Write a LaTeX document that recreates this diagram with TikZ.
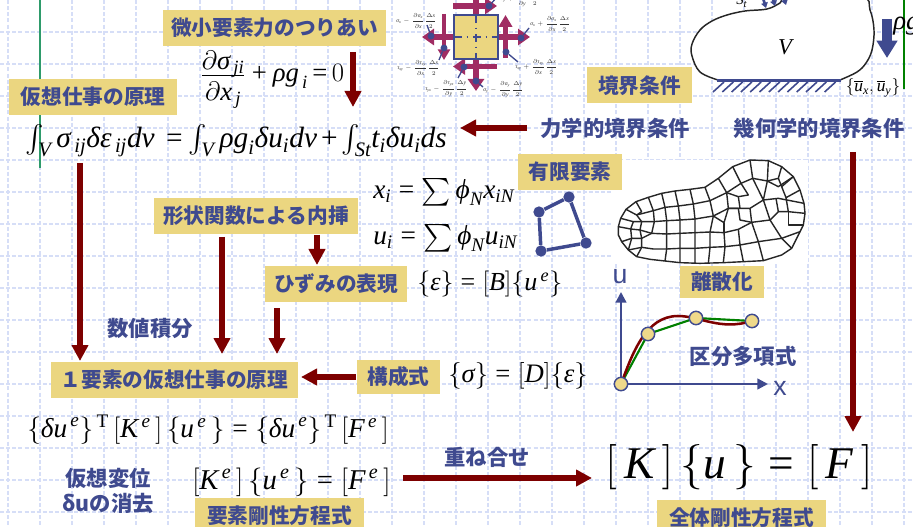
\documentclass[tikz,border=0pt]{standalone}
\usepackage{fix-cm}
\usepackage{amsmath}
\usepackage{fontspec}
\setmainfont{Liberation Serif}
\newfontfamily\jpf{Noto Sans CJK JP}
\newfontfamily\sansf{Liberation Sans}
\usetikzlibrary{arrows.meta}
\definecolor{ink}{HTML}{3F4A8F}
\definecolor{boxy}{HTML}{EBD680}
\definecolor{darkred}{HTML}{7D0000}
\definecolor{gridc}{HTML}{D6DEF7}
\definecolor{magen}{HTML}{A02C63}
\definecolor{dotc}{HTML}{EFD98A}
\newcommand{\iv}[1]{\text{\itshape #1}}
\newcommand{\ds}{\partial}
\newcommand{\eqq}{\mathrel{\text{=}}}
\newcommand{\pls}{\mathbin{\text{+}}}
\newcommand{\tightm}{\thickmuskip=5mu\medmuskip=4mu}
\newcommand{\lownum}[1]{\smash{\raisebox{-4pt}{$\displaystyle #1$}}}
\tikzset{
 lab/.style={fill=boxy,text=ink,font=\jpf\bfseries\fontsize{15.5}{18}\selectfont,inner sep=0pt,minimum height=27pt,align=center},
 plain/.style={text=ink,font=\jpf\bfseries\fontsize{16}{19}\selectfont,inner sep=0pt,align=center},
 fm/.style={font=\fontsize{#1}{#1}\selectfont,inner sep=0pt,anchor=west},
 tiny/.style={font=\fontsize{4.3}{5}\selectfont,inner sep=0pt,text=black!80},
 rarrow/.style={darkred,line width=4.2pt,-{Triangle[width=12pt,length=12pt]}},
 sarrow/.style={magen,line width=4pt,-{Triangle[width=12pt,length=9pt]}},
 callout/.style={ink,line width=1pt},
 cdot/.style={circle,fill=ink,inner sep=0pt,minimum size=5.2pt},
 femdot/.style={circle,fill=ink,inner sep=0pt,minimum size=8.5pt},
 plotdot/.style={circle,fill=dotc,draw=ink,line width=1.1pt,inner sep=0pt,minimum size=10pt},
 meshl/.style={black!85,line width=1.05pt,line join=round},
 gridl/.style={gridc,line width=.9pt,dash pattern=on 3pt off 1.6pt},
}
\begin{document}
\begin{tikzpicture}[x=.75pt,y=-.75pt]
\useasboundingbox (0,0) rectangle (913,527);
\clip (0,0) rectangle (913,527);
\fill[white] (0,0) rectangle (913,527);
% grid
\foreach \k in {0,...,28}{\draw[gridl] ({8+32*\k},0) -- ({8+32*\k},527);}
\foreach \k in {1,...,16}{\draw[gridl] (0,{32*\k}) -- (913,{32*\k});}
% green rules
\draw[color={rgb,255:red,46;green,155;blue,107},line width=1.1pt] (40,0) -- (40,168);
% blob
\fill[white] (612,160) rectangle (808,264);
\draw[fill=white,draw=black!85,line width=1.1pt] plot[smooth,tension=.6] coordinates {(718,80) (700,72) (692,56) (692,44) (700,30) (712,21) (727,15) (745,11) (767,9) (780,3) (790,-4) (860,-4) (870,10) (874,30) (872,50) (866,63) (857,72) (840,80)};
\draw[ink,line width=2pt] (717,80.5) -- (841,80.5);
\foreach \k in {0,...,12}{\draw[ink,line width=1.2pt] ({713+9.3*\k},92) -- ({724+9.3*\k},82);}
\foreach \a/\b in {763/-2,772/-4,783/-5}{\draw[ink,line width=2pt,-{Triangle[width=5pt,length=4pt]}] (\a,\b) -- ({\a+3},{\b+10});}
\node[fm=11,anchor=west] (st) at (736,1) {\iv{S}\raisebox{-2pt}{\fontsize{8}{8}\selectfont\itshape t}};
\node[fm=17,anchor=center] (vv) at (785,47) {\iv{V}};
\draw[ink,line width=7.5pt,-{Triangle[width=15pt,length=13pt]}] (887,19) -- (887,58);
\draw[color={rgb,255:red,0;green,128;blue,0},line width=1pt] (904,0) -- (904,89);
\node[fm=20] (rhog) at (893,26) {\iv{ρg}};
\node[fm=13,anchor=center] (ubar) at (873,88) {$\{\overline{\iv{u}}_{\iv{x}},\overline{\iv{u}}_{\iv{y}}\}$};
% stress element
\draw[sarrow] (476,16) -- (476,-14);
\draw[sarrow] (476,58) -- (476,91);
\draw[sarrow] (455,37) -- (422,37);
\draw[sarrow] (497,37) -- (530,37);
\draw[sarrow] (453,6) -- (497,6);
\draw[sarrow,line width=3.6pt,-{Triangle[width=9pt,length=8pt]}] (444,14) -- (444,60);
\draw[sarrow,line width=3.6pt,-{Triangle[width=10pt,length=9pt]}] (505.5,58) -- (505.5,15);
\draw[sarrow] (497,66.5) -- (453,66.5);
\node[draw=ink,fill=boxy,line width=1.4pt,minimum width=33pt,minimum height=33pt,inner sep=0pt] (elem) at (476,37) {};
\draw[ink,line width=1pt,dash pattern=on 6pt off 3.5pt on 1.2pt off 3.5pt] (454,37) -- (498,37);
\draw[ink,line width=1pt,dash pattern=on 6pt off 3.5pt on 1.2pt off 3.5pt] (476,15) -- (476,59);
\foreach \n/\dx/\dy/\ex/\ey in {c1/431/36/427/25,c2/444/48/439/60,c3/464/67/458/78,c4/476/81/483/87,c5/506/52/518/62,c6/521/38/529/28,c7/489/6/497/-3}{
 \node[cdot] (\n) at (\dx,\dy) {};
 \coordinate (\n e) at (\ex,\ey);
 \draw[callout] (\n) -- (\n e);
}
\node[tiny,anchor=east] (t1) at (437,21) {$\iv{σ}_{\iv{x}}-\dfrac{\ds\iv{σ}_{\iv{x}}}{\ds\iv{x}}\dfrac{\Delta\iv{x}}{2}$};
\node[tiny,anchor=east] (t2) at (440,68) {$\iv{τ}_{\iv{xy}}-\dfrac{\ds\iv{τ}_{\iv{xy}}}{\ds\iv{x}}\dfrac{\Delta\iv{x}}{2}$};
\node[tiny,anchor=east] (t3) at (468,89) {$\iv{τ}_{\iv{yx}}-\dfrac{\ds\iv{τ}_{\iv{yx}}}{\ds\iv{y}}\dfrac{\Delta\iv{y}}{2}$};
\node[tiny,anchor=west] (t4) at (483,90) {$\iv{σ}_{\iv{y}}-\dfrac{\ds\iv{σ}_{\iv{y}}}{\ds\iv{y}}\dfrac{\Delta\iv{y}}{2}$};
\node[tiny,anchor=west] (t5) at (515,67) {$\iv{τ}_{\iv{xy}}+\dfrac{\ds\iv{τ}_{\iv{xy}}}{\ds\iv{x}}\dfrac{\Delta\iv{x}}{2}$};
\node[tiny,anchor=west] (t6) at (530,24) {$\iv{σ}_{\iv{x}}+\dfrac{\ds\iv{σ}_{\iv{x}}}{\ds\iv{x}}\dfrac{\Delta\iv{x}}{2}$};
\node[tiny,anchor=east] (t7) at (541,-1) {$\iv{σ}_{\iv{y}}+\dfrac{\ds\iv{σ}_{\iv{y}}}{\ds\iv{y}}\dfrac{\Delta\iv{y}}{2}$};
% mesh (traced, in 1/3 px units)
\begin{scope}[shift={(600,170)},x=.25pt,y=-.25pt]
\draw[meshl] plot coordinates {(55,170) (62,145) (78,118) (108,95) (145,82) (185,70) (225,63) (270,58) (315,52) (355,25) (398,-10) (450,-30) (505,-28) (545,-10) (580,20) (600,60) (612,100) (615,130) (610,165) (600,185) (575,235) (545,255) (490,272) (430,275) (370,278) (300,280) (240,278) (195,273) (150,268) (110,260) (85,240) (65,215) (55,195) (55,170)};
\foreach \p in {
 {(78,118) (110,135) (160,122) (195,112) (235,108) (280,102) (330,92) (380,68) (423,40) (458,25) (502,33) (535,50) (580,20)},
 {(108,95) (125,125) (110,135)},
 {(62,145) (100,155) (125,155) (160,155) (200,152) (240,150) (285,147) (340,138) (385,115) (420,115) (450,115) (490,90) (535,85) (612,100)},
 {(55,170) (92,177) (120,180) (155,190) (200,192) (240,190) (285,188) (330,186) (372,188) (415,178) (455,157) (510,150) (535,125) (565,125) (615,130)},
 {(65,215) (95,205) (125,205) (155,190)},
 {(85,240) (125,232) (160,237) (200,237) (240,235) (285,235) (330,232) (375,230) (420,225) (475,215) (545,205) (600,185)},
 {(110,135) (125,155) (120,180) (125,205) (125,232) (110,260)},
 {(100,155) (92,177) (95,205) (85,240)},
 {(145,82) (160,122) (163,155) (155,190)},
 {(185,70) (195,112) (200,152) (200,192) (200,237) (195,273)},
 {(225,63) (235,108) (240,150) (240,190) (240,235) (240,278)},
 {(270,58) (280,102) (285,147) (285,188) (285,235) (285,280)},
 {(315,52) (330,92) (340,138) (330,186) (330,232) (325,280)},
 {(372,188) (375,230) (370,278)},
 {(415,178) (420,225) (430,275)},
 {(455,157) (475,215) (490,272)},
 {(510,150) (545,205) (575,235)},
 {(565,125) (565,165) (610,165)},
 {(355,25) (380,68) (385,115)},
 {(398,-10) (423,40) (445,75) (415,80) (380,68)},
 {(450,-30) (458,25) (490,90)},
 {(505,-28) (502,33) (490,90)},
 {(545,-10) (535,25) (502,33)},
 {(580,20) (545,50) (535,25)},
 {(600,60) (558,83) (545,50)},
 {(558,83) (565,125)},
 {(340,138) (372,158) (385,115)},
 {(372,158) (372,188)},
 {(385,115) (415,115) (420,150) (455,157)},
 {(415,80) (420,115)},
 {(450,115) (455,157)},
 {(528,85) (535,125)},
 {(490,90) (510,150)}}{
 \draw[meshl] plot coordinates {\p};
}
\end{scope}
% stage-plot
\coordinate (orig) at (621,384);
\coordinate (utip) at (621,292);
\coordinate (xtip) at (768,384);
\draw[ink,line width=1.7pt,-{Triangle[width=8pt,length=8pt]}] (orig) -- (utip);
\draw[ink,line width=1.7pt,-{Triangle[width=8pt,length=8pt]}] (orig) -- (xtip);
\node[font=\sansf\fontsize{20}{20}\selectfont,text=ink,inner sep=0pt] (ulab) at (620,277) {u};
\node[font=\sansf\fontsize{20}{20}\selectfont,text=ink,inner sep=0pt] (xlab) at (780,388) {x};
\coordinate (p0) at (621,384);
\coordinate (p1) at (648,334);
\coordinate (p2) at (696,318);
\coordinate (p3) at (752,321);
\draw[color={rgb,255:red,0;green,128;blue,0},line width=1.6pt] (p0) -- (p1) -- (p2) -- (p3);
\draw[darkred,line width=1.9pt] (p0) .. controls (632,355) and (645,316) .. (678,316) .. controls (700,316) and (720,331) .. (752,321);
\node[plotdot] (d0) at (p0) {};
\node[plotdot] (d1) at (p1) {};
\node[plotdot] (d2) at (p2) {};
\node[plotdot] (d3) at (p3) {};
% finite element
\node[femdot] (f1) at (539,212) {};
\node[femdot] (f2) at (569,197) {};
\node[femdot] (f3) at (586,243) {};
\node[femdot] (f4) at (541,251) {};
\draw[ink,line width=2.6pt] (f1) -- (f2) -- (f3) -- (f4) -- (f1);
% labels
\node[lab,minimum width=167pt] (micro) at (274.5,28) {微小要素力のつりあい};
\node[lab,minimum width=126pt] (kaso) at (93,97) {仮想仕事の原理};
\node[lab,minimum width=79pt] (kyokai) at (639.5,85.5) {境界条件};
\node[plain] (rikigaku) at (615,128) {力学的境界条件};
\node[plain] (kika) at (819,128) {幾何学的境界条件};
\node[lab,minimum width=78pt] (yugen) at (570,172) {有限要素};
\node[lab,minimum width=153pt] (keijo) at (256,216) {形状関数による内挿};
\node[lab,minimum width=106pt] (hizumi) at (336,284) {ひずみの表現};
\node[lab,minimum width=63pt,minimum height=24pt] (risan) at (722,282) {離散化};
\node[plain] (suchi) at (150,328) {数値積分};
\node[plain] (kubun) at (743,356) {区分多項式};
\node[lab,minimum width=185pt] (ichi) at (174.5,380) {１要素の仮想仕事の原理};
\node[lab,minimum width=62pt,minimum height=26pt] (kosei) at (398.5,377) {構成式};
\node[plain] (henni) at (108,491) {仮想変位\\δuの消去};
\node[lab,minimum width=127pt] (yoso) at (279.5,516) {要素剛性方程式};
\node[plain] (kasane) at (487,457) {重ね合せ};
\node[lab,minimum width=127pt] (zentai) at (741.5,518) {全体剛性方程式};
% formulas
\node[fm=20,anchor=base west] (fa) at (200,82) {$\thickmuskip=3mu\medmuskip=4mu\dfrac{\lownum{\ds\iv{σ}_{\;\iv{ji}}}}{\ds\iv{x}_{\;\iv{j}}}\pls\iv{ρg}_{\,\iv{i}}\eqq 0$};
\node[fm=22] (fb) at (25,141) {$\thickmuskip=3.5mu\medmuskip=2.5mu\int_{\iv{V}}\iv{σ}_{\,\iv{ij}}\iv{δε}_{\,\iv{ij}}\iv{dv}\;\eqq\int_{\iv{V}}\iv{ρg}_{\iv{i}}\iv{δu}_{\iv{i}}\iv{dv}\pls\int_{\iv{St}}\!\iv{t}_{\iv{i}}\iv{δu}_{\iv{i}}\iv{ds}$};
\node[fm=20.5] (fc) at (373,192) {$\tightm\iv{x}_{\iv{i}}\eqq\sum\iv{ϕ}_{\iv{N}}\iv{x}_{\iv{iN}}$};
\node[fm=20.5] (fd) at (373,238) {$\tightm\iv{u}_{\iv{i}}\eqq\sum\iv{ϕ}_{\iv{N}}\iv{u}_{\iv{iN}}$};
\node[fm=19.5] (fe) at (417,284) {$\tightm\{\iv{ε}\}\eqq[\iv{B}]\{\iv{u}^{\,\iv{e}}\}$};
\node[fm=20] (ff) at (448,376) {$\tightm\{\iv{σ}\}\eqq[\iv{D}]\{\iv{ε}\}$};
\node[fm=20.5] (fg) at (27,430) {$\{\iv{δu}^{\,\iv{e}}\}^{\,\mathrm{T}}\,[\iv{K}^{\,\iv{e}}\,]\,\{\iv{u}^{\,\iv{e}}\,\}\eqq\{\iv{δu}^{\,\iv{e}}\}^{\,\mathrm{T}}\,[\iv{F}^{\,\iv{e}}\,]$};
\node[fm=21.5] (fh) at (192,482) {$[\iv{K}^{\,\iv{e}}\,]\,\{\iv{u}^{\,\iv{e}}\,\}\eqq[\iv{F}^{\,\iv{e}}\,]$};
\node[fm=34] (fi) at (605,467) {$[\,\iv{K}\,]\,\{\iv{u}\,\}\eqq[\,\iv{F}\,]$};
% arrow ends
\coordinate (a1) at (353,52); \coordinate (a1e) at (353,107);
\coordinate (a2) at (80,163); \coordinate (a2e) at (80,361);
\coordinate (a4) at (853,152); \coordinate (a4e) at (853,432);
\coordinate (a5) at (317,235); \coordinate (a5e) at (317,265);
\coordinate (a6) at (222,237); \coordinate (a6e) at (222,354);
\coordinate (a7) at (277,308); \coordinate (a7e) at (277,354);
\coordinate (a9) at (403,478); \coordinate (a9e) at (592,478);
\coordinate (a3) at (527,128); \coordinate (a3e) at (460,128);
\coordinate (a8) at (356,377); \coordinate (a8e) at (301,377);
\foreach \s/\e in {a1/a1e,a2/a2e,a3/a3e,a4/a4e,a5/a5e,a6/a6e,a7/a7e,a8/a8e,a9/a9e}{
 \draw[rarrow] (\s) -- (\e);
}
\end{tikzpicture}
\end{document}
